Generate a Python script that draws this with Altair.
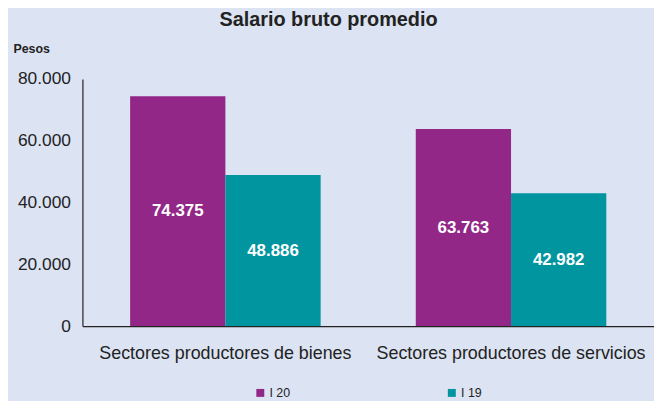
import altair as alt
import pandas as pd

categories = ["Sectores productores de bienes", "Sectores productores de servicios"]
series = ["I 20", "I 19"]
values_i20 = [74375, 63763]
values_i19 = [48886, 42982]

rows = []
for c, a, b in zip(categories, values_i20, values_i19):
    rows.append({"sector": c, "periodo": series[0], "valor": a})
    rows.append({"sector": c, "periodo": series[1], "valor": b})
df = pd.DataFrame(rows)
df["etiqueta"] = df["valor"].map(lambda v: f"{v:,}".replace(",", "."))
df["mitad"] = df["valor"] / 2

colors = ["#922787", "#00959F"]
font = "Liberation Sans"
ink = "#222222"

x = alt.X("sector:N", sort=categories, title=None,
          scale=alt.Scale(paddingInner=0.333, paddingOuter=0.167),
          axis=alt.Axis(labelAngle=0, labelFontSize=18, labelColor=ink,
                        labelPadding=19, ticks=False, domainColor=ink,
                        domainWidth=1.2, labelFont=font, labelLimit=400))
xo = alt.XOffset("periodo:N", sort=series)

bars = alt.Chart(df).mark_bar().encode(
    x=x, xOffset=xo,
    y=alt.Y("valor:Q", scale=alt.Scale(domain=[0, 80000]),
            title="Pesos",
            axis=alt.Axis(values=[0, 20000, 40000, 60000, 80000], grid=False, ticks=False,
                          labelExpr="replace(format(datum.value, ','), ',', '.')",
                          labelFontSize=17.5, labelColor=ink, labelPadding=12,
                          labelFont=font, domainColor=ink, domainWidth=1.2,
                          titleAngle=0, titleX=-70, titleY=-31, titleAlign="left",
                          titleBaseline="middle", titleFontSize=12.5, titleFont=font,
                          titleFontWeight="bold", titleColor=ink)),
    color=alt.Color("periodo:N", sort=series,
                    scale=alt.Scale(domain=series, range=colors),
                    legend=alt.Legend(title=None, orient="none", direction="horizontal",
                                      legendX=173, legendY=310, symbolType="square",
                                      symbolSize=64, symbolStrokeWidth=0,
                                      labelFontSize=12.5, labelFont=font, labelColor=ink,
                                      columnPadding=156, labelOffset=3)),
)

labels = alt.Chart(df).mark_text(color="white", fontWeight="bold", fontSize=17,
                                 font=font, baseline="middle").encode(
    x=x, xOffset=xo,
    y=alt.Y("mitad:Q"),
    text="etiqueta:N",
)

chart = (bars + labels).properties(
    width=576, height=249,
    background="#DCE3F2",
    padding={"left": 75, "top": 70, "right": 0, "bottom": 74},
    autosize=alt.AutoSizeParams(type="none"),
    title=alt.TitleParams("Salario bruto promedio", fontSize=20, font=font,
                          fontWeight="bold", color=ink, anchor="middle",
                          dx=-40, offset=12),
).configure_view(stroke=None)

chart.save("out.html", embed_options={"renderer": "svg", "actions": False})
